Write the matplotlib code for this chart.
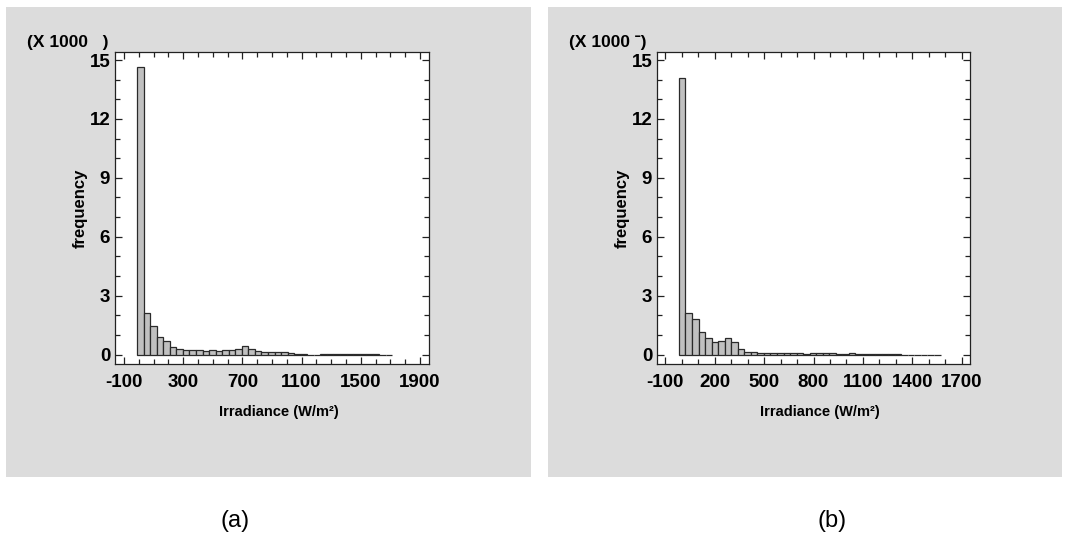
import numpy as np
import matplotlib
matplotlib.use("Agg")
import matplotlib.pyplot as plt
from matplotlib.patches import Rectangle
from matplotlib.ticker import FixedLocator, FixedFormatter, MultipleLocator

plt.rcParams["font.family"] = ["Liberation Sans", "DejaVu Sans"]

# Histogram (a): class start, class width, counts in thousands
bins_a_start = -11.0
bins_a_width = 44.2
freq_a = [14.65, 2.12, 1.45, 0.87, 0.70, 0.40, 0.30, 0.23, 0.23, 0.23,
          0.19, 0.24, 0.19, 0.24, 0.24, 0.29, 0.45, 0.30, 0.19, 0.15,
          0.15, 0.12, 0.11, 0.09, 0.04, 0.04, 0.0, 0.0, 0.03, 0.03,
          0.03, 0.03, 0.03, 0.03, 0.03, 0.03, 0.03, 0.0, 0.0]

# Histogram (b)
bins_b_start = -17.0
bins_b_width = 39.7
freq_b = [14.07, 2.12, 1.81, 1.15, 0.83, 0.64, 0.69, 0.83, 0.64, 0.26,
          0.15, 0.12, 0.08, 0.07, 0.07, 0.07, 0.07, 0.07, 0.07, 0.03,
          0.07, 0.07, 0.07, 0.07, 0.03, 0.03, 0.09, 0.03, 0.03, 0.03,
          0.03, 0.03, 0.03, 0.03, 0.0, 0.0, 0.0, 0.0, 0.0, 0.0]

xticks_a = [-100, 300, 700, 1100, 1500, 1900]
xticks_b = [-100, 200, 500, 800, 1100, 1400, 1700]
yticks = [0, 3, 6, 9, 12, 15]

W, H = 1067, 534
PANEL = "#dcdcdc"
BAR = "#c0c0c0"
EDGE = "#2a2a2a"

fig = plt.figure(figsize=(W / 100, H / 100), dpi=100)
fig.patch.set_facecolor("white")


def px_box(x0, y0, x1, y1):
    """Pixel box (top-left origin) -> figure fraction [l, b, w, h]."""
    return [x0 / W, 1 - y1 / H, (x1 - x0) / W, (y1 - y0) / H]


def draw_panel(panel_px, ax_px, start, width, freq, xticks, xlim,
               scale_text, xlabel_x, caption, caption_x):
    l, b, w, h = px_box(*panel_px)
    fig.patches.append(Rectangle((l, b), w, h, transform=fig.transFigure,
                                 facecolor=PANEL, edgecolor="none", zorder=-5))
    ax = fig.add_axes(px_box(*ax_px))
    ax.set_zorder(2)
    ax.set_facecolor("white")
    edges = start + width * np.arange(len(freq) + 1)
    ax.bar(edges[:-1], freq, width=np.diff(edges), align="edge",
           color=BAR, edgecolor=EDGE, linewidth=0.9)
    ax.set_xlim(*xlim)
    ax.set_ylim(-0.48, 15.41)

    ax.xaxis.set_major_locator(FixedLocator(xticks))
    ax.xaxis.set_major_formatter(FixedFormatter([str(t) for t in xticks]))
    ax.xaxis.set_minor_locator(MultipleLocator(100))
    ax.yaxis.set_major_locator(FixedLocator(yticks))
    ax.yaxis.set_major_formatter(FixedFormatter([str(t) for t in yticks]))
    ax.yaxis.set_minor_locator(MultipleLocator(1))

    ax.tick_params(which="both", direction="in", top=True, right=True,
                   width=0.9, color="#222222")
    ax.tick_params(which="major", length=5)
    ax.tick_params(which="minor", length=3.5)
    ax.tick_params(axis="x", which="major", pad=7)
    ax.tick_params(axis="y", which="major", pad=3.5)
    for lab in ax.get_xticklabels() + ax.get_yticklabels():
        lab.set_fontsize(13.5)
        lab.set_fontweight("bold")
    for sp in ax.spines.values():
        sp.set_linewidth(0.9)
        sp.set_color("#222222")

    ax.set_ylabel("frequency", fontsize=12, fontweight="bold")
    ax.yaxis.set_label_coords(-0.088, 0.5)

    ax_l = ax_px[0]
    fig.text(xlabel_x / W, 1 - 412 / H, "Irradiance (W/m²)", fontsize=10.5,
             fontweight="bold", ha="center", va="center")
    fig.text((ax_l - 88) / W, 1 - 43 / H, scale_text, fontsize=12.5,
             fontweight="bold", ha="left", va="center")
    fig.text(caption_x / W, 1 - 521 / H, caption, fontsize=17,
             ha="center", va="center")
    return ax


draw_panel((6, 7, 531, 477), (115, 52, 429, 364), bins_a_start, bins_a_width,
           freq_a, xticks_a, (-160, 1960), "(X 1000   )", 279, "(a)", 235)
draw_panel((548, 7, 1062, 477), (657, 52, 970, 364), bins_b_start, bins_b_width,
           freq_b, xticks_b, (-150, 1750), "(X 1000 ˉ)", 820, "(b)", 832)

fig.savefig("out.png", dpi=100)
